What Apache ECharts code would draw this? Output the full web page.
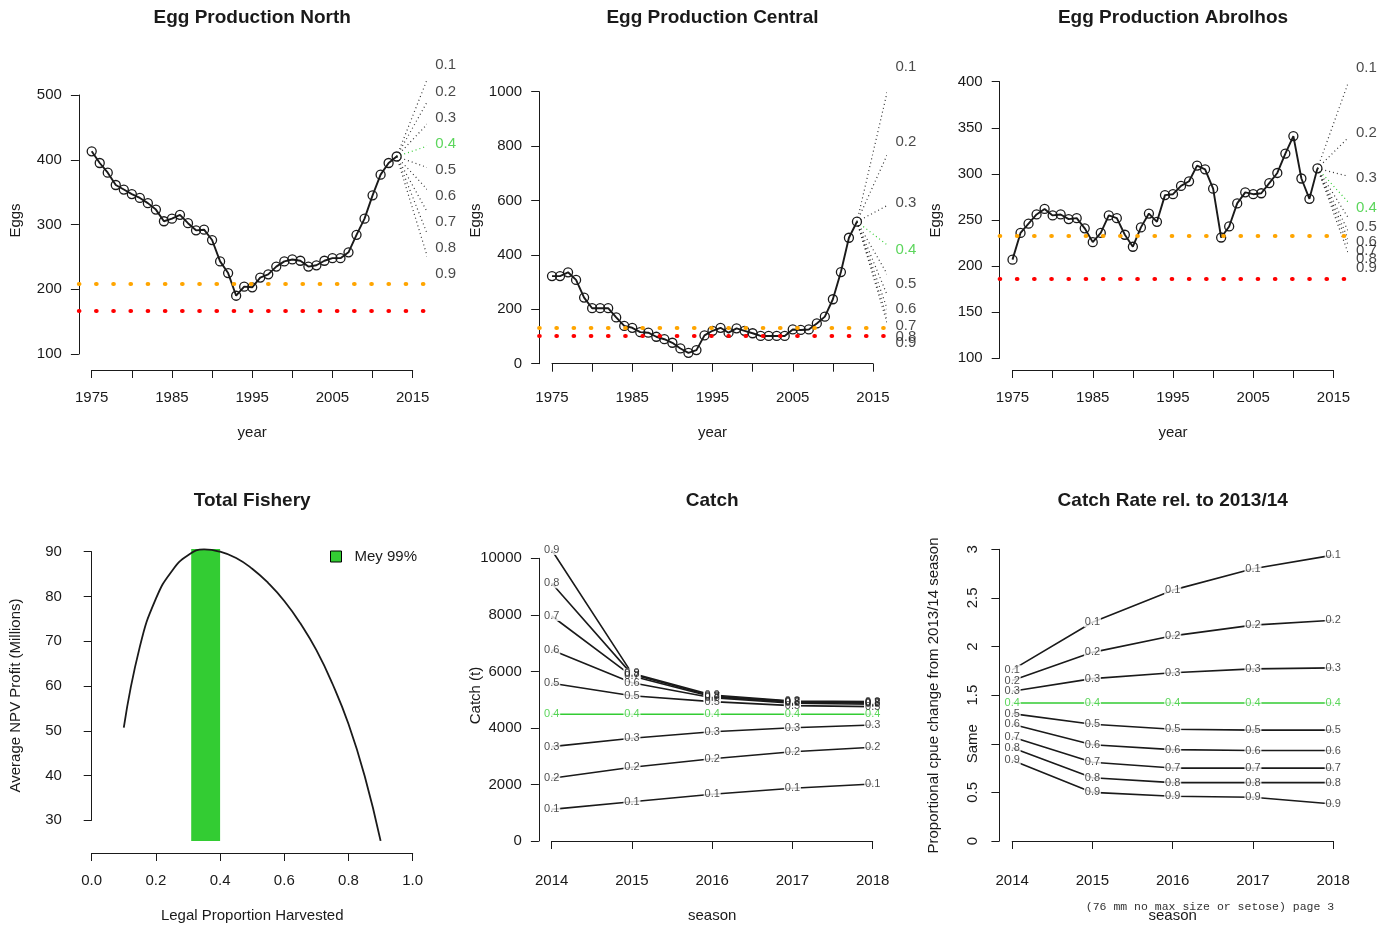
<!DOCTYPE html>
<html>
<head>
<meta charset="utf-8">
<script src="https://cdn.jsdelivr.net/npm/echarts@6/dist/echarts.min.js"></script>
<style>
  html, body { margin: 0; padding: 0; background: #fff; }
  #chart { width: 1394px; height: 928px; }
</style>
</head>
<body>
<div id="chart"></div>
<script>
// egg production by year
var years = [1975, 1976, 1977, 1978, 1979, 1980, 1981, 1982, 1983, 1984,
  1985, 1986, 1987, 1988, 1989, 1990, 1991, 1992, 1993, 1994,
  1995, 1996, 1997, 1998, 1999, 2000, 2001, 2002, 2003, 2004,
  2005, 2006, 2007, 2008, 2009, 2010, 2011, 2012, 2013]
var northEggs = [413, 395, 380, 361, 354, 347, 341, 333, 323, 305,
  309, 315, 302, 291, 292, 276, 243, 225, 190, 204,
  203, 218, 223, 235, 243, 246, 244, 235, 237, 244,
  248, 248, 257, 284, 309, 345, 377, 395, 405]
var centralEggs = [322, 322, 336, 308, 243, 204, 204, 204, 170, 139,
  132, 116, 114, 99, 90, 77, 56, 40, 50, 104,
  121, 132, 114, 130, 121, 112, 102, 102, 102, 102,
  126, 124, 126, 148, 173, 237, 337, 463, 522]
var abrolhosEggs = [207, 236, 246, 256, 262, 255, 256, 251, 252, 241,
  226, 236, 255, 252, 234, 221, 242, 257, 248, 277,
  278, 287, 292, 309, 305, 284, 231, 243, 268, 280,
  278, 279, 290, 301, 322, 341, 295, 273, 306]

// reference levels [orange, red]
var northRef = [208, 167]
var centralRef = [132, 104]
var abrolhosRef = [233, 186]

// harvest rates and projected egg production
var rates = ['0.1', '0.2', '0.3', '0.4', '0.5', '0.6', '0.7', '0.8', '0.9']
var projYear = 2017.5
var labelYear = 2019.1
var northProj = [546, 505, 464, 424, 385, 345, 304, 264, 223]
var centralProj = [1092, 816, 593, 420, 292, 200, 139, 99, 75]
var abrolhosProj = [415, 345, 296, 263, 243, 226, 216, 208, 198]

// total fishery
var harvest = [0.1, 0.15, 0.2, 0.25, 0.3, 0.35, 0.4, 0.45, 0.5,
  0.55, 0.6, 0.65, 0.7, 0.75, 0.8, 0.85, 0.9]
var profit = [50.7, 68.8, 79.5, 85.7, 89.2, 90.5, 90.0, 88.6, 86.2,
  83.0, 79.0, 74.0, 68.0, 60.5, 51.5, 40.0, 25.4]
var meyBand = [0.31, 0.40]
var meyProfit = [25.4, 90.6]

// catch (t) by season
var seasons = [2014, 2015, 2016, 2017, 2018]
var catch01 = [1120, 1390, 1651, 1864, 2016]
var catch02 = [2217, 2607, 2912, 3159, 3314]
var catch03 = [3337, 3633, 3867, 4008, 4103]
var catch04 = [4481, 4481, 4481, 4481, 4481]
var catch05 = [5578, 5140, 4930, 4787, 4752]
var catch06 = [6756, 5600, 5070, 4871, 4835]
var catch07 = [7959, 5836, 5105, 4906, 4871]
var catch08 = [9115, 5895, 5129, 4930, 4894]
var catch09 = [10294, 5930, 5165, 4952, 4930]

// catch rate relative to 2013/14
var cpue01 = [1.76, 2.25, 2.58, 2.80, 2.94]
var cpue02 = [1.65, 1.94, 2.11, 2.22, 2.27]
var cpue03 = [1.54, 1.67, 1.73, 1.77, 1.78]
var cpue04 = [1.42, 1.42, 1.42, 1.42, 1.42]
var cpue05 = [1.31, 1.20, 1.15, 1.14, 1.14]
var cpue06 = [1.20, 0.99, 0.94, 0.93, 0.93]
var cpue07 = [1.07, 0.81, 0.75, 0.75, 0.75]
var cpue08 = [0.96, 0.65, 0.60, 0.60, 0.60]
var cpue09 = [0.83, 0.50, 0.46, 0.45, 0.38]

var FONT = '"Liberation Sans", Arial, Helvetica, sans-serif'
var INK = '#1a1a1a'
var GREEN = '#33cc33'

var grids = []
var xAxes = []
var yAxes = []
var series = []
var texts = []

function hidden() {
  return {
    axisLine: { show: false },
    axisTick: { show: false },
    axisLabel: { show: false },
    splitLine: { show: false }
  }
}

// two grids per panel: one holds the R style axes, one the plot region
function addPanel(p) {
  var sx = (p.x.px1 - p.x.px0) / (p.x.max - p.x.min)
  var sy = (p.y.px0 - p.y.px1) / (p.y.max - p.y.min)
  var gi = grids.length
  grids.push({ left: p.x.px0, top: p.y.px1, width: p.x.px1 - p.x.px0, height: p.y.px0 - p.y.px1, outerBoundsMode: 'none' })
  grids.push({ left: p.usr.l, top: p.usr.t, width: p.usr.r - p.usr.l, height: p.usr.b - p.usr.t, outerBoundsMode: 'none' })
  var line = { show: true, lineStyle: { color: INK, width: 1 } }
  var tick = { show: true, length: 8, lineStyle: { color: INK, width: 1 } }
  xAxes.push({
    type: 'value', gridIndex: gi, min: p.x.min, max: p.x.max, interval: p.x.step,
    offset: p.usr.b - p.y.px0,
    axisLine: line, axisTick: tick, splitLine: { show: false },
    axisLabel: { color: INK, fontSize: 15, fontFamily: FONT, margin: 20, formatter: p.xFmt, showMinLabel: true, showMaxLabel: true }
  })
  yAxes.push({
    type: 'value', gridIndex: gi, min: p.y.min, max: p.y.max, interval: p.y.step,
    offset: p.x.px0 - p.usr.l,
    axisLine: line, axisTick: tick, splitLine: { show: false },
    axisLabel: { color: INK, fontSize: 15, fontFamily: FONT, margin: p.yRotate ? 19 : 17, rotate: p.yRotate || 0, formatter: p.yFmt, showMinLabel: true, showMaxLabel: true }
  })
  var nameStyle = { color: INK, fontSize: 15, fontFamily: FONT }
  xAxes.push(Object.assign({
    type: 'value', gridIndex: gi + 1,
    min: p.x.min - (p.x.px0 - p.usr.l) / sx, max: p.x.max + (p.usr.r - p.x.px1) / sx,
    name: p.xName, nameLocation: 'middle', nameGap: 55, nameTextStyle: nameStyle, nameMoveOverlap: false
  }, hidden()))
  yAxes.push(Object.assign({
    type: 'value', gridIndex: gi + 1,
    min: p.y.min - (p.usr.b - p.y.px0) / sy, max: p.y.max + (p.y.px1 - p.usr.t) / sy,
    name: p.yName, nameLocation: 'middle', nameGap: p.yGap || 56, nameTextStyle: nameStyle, nameMoveOverlap: false
  }, hidden()))
  texts.push({
    type: 'text', x: (p.usr.l + p.usr.r) / 2, y: p.titleY,
    style: { text: p.title, font: 'bold 19px ' + FONT, fill: INK, align: 'center', verticalAlign: 'middle', textAlign: 'center', textVerticalAlign: 'middle' }
  })
  return gi + 1
}

var yearFmt = function (v) { return (v - 1975) % 10 === 0 ? String(v) : '' }
var plainFmt = function (v) { return String(v) }

function eggPanel(p, eggs, ref, proj) {
  var d = addPanel(p)
  series.push({
    type: 'line', xAxisIndex: d, yAxisIndex: d, z: 4,
    data: years.map(function (y, i) { return [y, eggs[i]] }),
    symbol: 'circle', symbolSize: 9,
    itemStyle: { color: 'rgba(0,0,0,0)', borderColor: INK, borderWidth: 1.3 },
    lineStyle: { color: INK, width: 1.9 },
    markLine: {
      silent: true, symbol: 'none', label: { show: false },
      data: [
        { yAxis: ref[0], lineStyle: { color: '#ffa500', width: 4.2, type: [0.5, 16.7], cap: 'round' } },
        { yAxis: ref[1], lineStyle: { color: '#ff0000', width: 4.2, type: [0.5, 16.7], cap: 'round' } }
      ]
    }
  })
  var last = eggs[eggs.length - 1]
  rates.forEach(function (r, k) {
    series.push({
      type: 'line', xAxisIndex: d, yAxisIndex: d, z: 2, clip: true,
      data: [[years[years.length - 1], last], [projYear, proj[k]]],
      symbol: 'none',
      lineStyle: { color: k === 3 ? GREEN : '#333', width: 1.2, type: [1, 3] }
    })
  })
  series.push({
    type: 'scatter', xAxisIndex: d, yAxisIndex: d, clip: false, z: 5,
    symbol: 'circle', symbolSize: 1, itemStyle: { color: 'rgba(0,0,0,0)' },
    data: rates.map(function (r, k) {
      return { value: [labelYear, proj[k]], name: r, label: { color: k === 3 ? GREEN : INK } }
    }),
    label: { show: true, position: 'inside', formatter: '{b}', fontSize: 15, fontFamily: FONT }
  })
}

eggPanel({
  title: 'Egg Production North', titleY: 18, xName: 'year', yName: 'Eggs',
  x: { min: 1975, max: 2015, step: 5, px0: 91.7, px1: 412.7 },
  y: { min: 100, max: 500, step: 100, px0: 354, px1: 95 },
  usr: { l: 78.9, r: 425.5, t: 71, b: 370 }, xFmt: yearFmt, yFmt: plainFmt
}, northEggs, northRef, northProj)

eggPanel({
  title: 'Egg Production Central', titleY: 18, xName: 'year', yName: 'Eggs',
  x: { min: 1975, max: 2015, step: 5, px0: 552, px1: 873 },
  y: { min: 0, max: 1000, step: 200, px0: 363.7, px1: 91.7 },
  usr: { l: 539.2, r: 885.8, t: 71, b: 370 }, xFmt: yearFmt, yFmt: plainFmt
}, centralEggs, centralRef, centralProj)

eggPanel({
  title: 'Egg Production Abrolhos', titleY: 18, xName: 'year', yName: 'Eggs',
  x: { min: 1975, max: 2015, step: 5, px0: 1012.5, px1: 1333.5 },
  y: { min: 100, max: 400, step: 50, px0: 358.3, px1: 81.7 },
  usr: { l: 999.7, r: 1346.3, t: 71, b: 370 }, xFmt: yearFmt, yFmt: plainFmt
}, abrolhosEggs, abrolhosRef, abrolhosProj)

// Total Fishery
var dF = addPanel({
  title: 'Total Fishery', titleY: 501, xName: 'Legal Proportion Harvested', yName: 'Average NPV Profit (Millions)',
  x: { min: 0, max: 1, step: 0.2, px0: 91.7, px1: 412.7 },
  y: { min: 30, max: 90, step: 10, px0: 820.3, px1: 551.7 },
  usr: { l: 78.9, r: 425.5, t: 538, b: 853 },
  xFmt: function (v) { return v.toFixed(1) }, yFmt: plainFmt
})
series.push({
  type: 'custom', name: 'Mey 99%', xAxisIndex: dF, yAxisIndex: dF, z: 1,
  itemStyle: { color: GREEN },
  encode: { x: [0, 1], y: [2, 3] },
  data: [[meyBand[0], meyBand[1], meyProfit[0], meyProfit[1]]],
  renderItem: function (params, api) {
    var a = api.coord([api.value(0), api.value(3)])
    var b = api.coord([api.value(1), api.value(2)])
    return { type: 'rect', shape: { x: a[0], y: a[1], width: b[0] - a[0], height: b[1] - a[1] }, style: { fill: GREEN } }
  }
})
series.push({
  type: 'line', xAxisIndex: dF, yAxisIndex: dF, z: 3, smooth: 0.5,
  data: harvest.map(function (h, i) { return [h, profit[i]] }),
  symbol: 'none', lineStyle: { color: INK, width: 1.8 }
})

function ratePanel(p, lines) {
  var d = addPanel(p)
  lines.forEach(function (vals, k) {
    var col = k === 3 ? GREEN : INK
    series.push({
      type: 'line', xAxisIndex: d, yAxisIndex: d, z: 2,
      data: seasons.map(function (s, i) { return [s, vals[i]] }),
      symbol: 'none', lineStyle: { color: col, width: 1.6 }
    })
  })
  lines.forEach(function (vals, k) {
    var col = k === 3 ? GREEN : '#222'
    series.push({
      type: 'scatter', xAxisIndex: d, yAxisIndex: d, z: 3, clip: false,
      symbol: 'rect', symbolSize: [17, 10], itemStyle: { color: '#fff' },
      data: seasons.map(function (s, i) { return { value: [s, vals[i]], name: rates[k] } }),
      label: { show: true, position: 'inside', formatter: '{b}', fontSize: 11, fontFamily: FONT, color: col }
    })
  })
}

ratePanel({
  title: 'Catch', titleY: 501, xName: 'season', yName: 'Catch (t)',
  x: { min: 2014, max: 2018, step: 1, px0: 551.7, px1: 872.7 },
  y: { min: 0, max: 10000, step: 2000, px0: 841, px1: 558.3 },
  usr: { l: 538.9, r: 885.5, t: 538, b: 853 }, xFmt: plainFmt, yFmt: plainFmt
}, [catch01, catch02, catch03, catch04, catch05, catch06, catch07, catch08, catch09])

ratePanel({
  title: 'Catch Rate rel. to 2013/14', titleY: 501, xName: 'season',
  yName: 'Proportional cpue change from 2013/14 season',
  x: { min: 2014, max: 2018, step: 1, px0: 1012.2, px1: 1333.2 },
  y: { min: 0, max: 3, step: 0.5, px0: 841, px1: 549.3 },
  usr: { l: 999.4, r: 1346, t: 538, b: 853 }, xFmt: plainFmt, yRotate: 90, yGap: 58,
  yFmt: function (v) { return v === 1 ? 'Same' : String(v) }
}, [cpue01, cpue02, cpue03, cpue04, cpue05, cpue06, cpue07, cpue08, cpue09])

texts.push({
  type: 'text', x: 1210, y: 907, z: 10,
  style: { text: '(76 mm no max size or setose) page 3', font: '11.5px "Liberation Mono", "DejaVu Sans Mono", monospace', fill: '#333', align: 'center', verticalAlign: 'middle', textAlign: 'center', textVerticalAlign: 'middle' }
})

var chart = echarts.init(document.getElementById('chart'), null, { renderer: 'canvas' })
chart.setOption({
  animation: false,
  backgroundColor: '#fff',
  legend: {
    data: ['Mey 99%'], left: 330, top: 549, icon: 'rect', itemWidth: 11, itemHeight: 11, padding: 0,
    itemStyle: { borderColor: '#000', borderWidth: 1 },
    textStyle: { color: INK, fontSize: 15, fontFamily: FONT, padding: [0, 0, 0, 8] },
    selectedMode: false
  },
  grid: grids,
  xAxis: xAxes,
  yAxis: yAxes,
  series: series,
  graphic: texts
})
</script>
</body>
</html>
